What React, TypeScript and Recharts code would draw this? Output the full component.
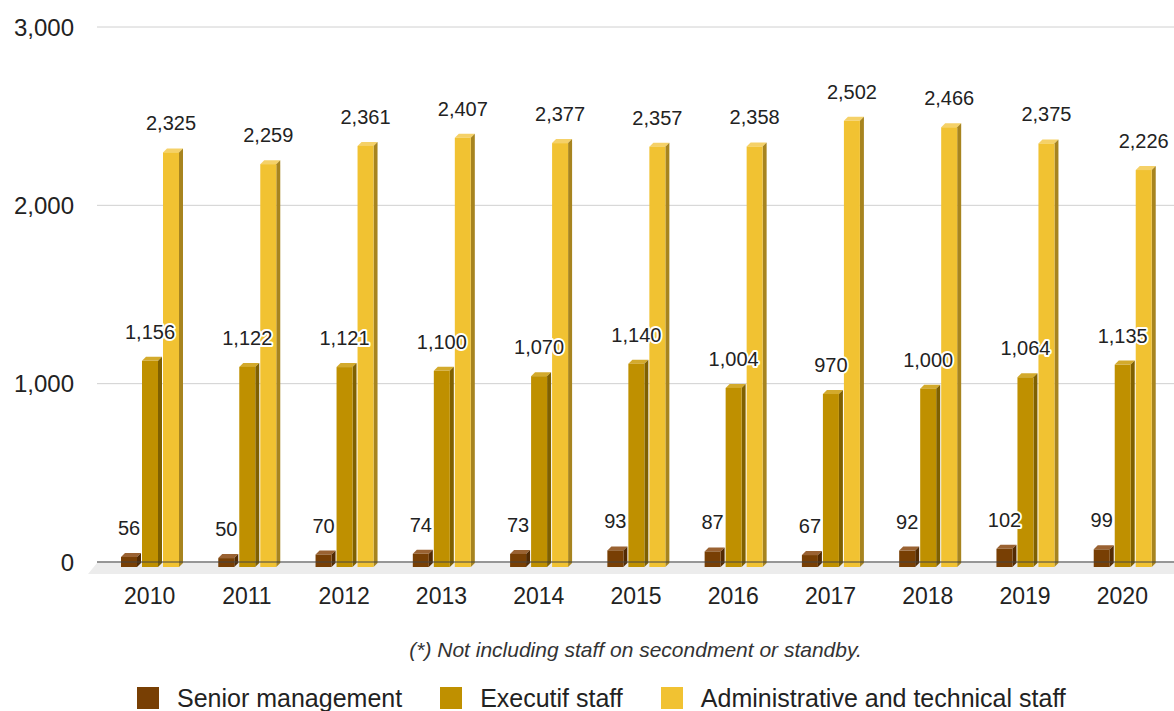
import { Bar, BarChart, CartesianGrid, LabelList, XAxis, YAxis } from "recharts";

const years = ["2010", "2011", "2012", "2013", "2014", "2015", "2016", "2017", "2018", "2019", "2020"];
const seniorManagement = [56, 50, 70, 74, 73, 93, 87, 67, 92, 102, 99];
const executifStaff = [1156, 1122, 1121, 1100, 1070, 1140, 1004, 970, 1000, 1064, 1135];
const adminTechStaff = [2325, 2259, 2361, 2407, 2377, 2357, 2358, 2502, 2466, 2375, 2226];
const yTicks = [0, 1000, 2000, 3000];

const series = [
  { key: "senior", name: "Senior management", front: "#783f04", top: "#9a6232", side: "#522a02" },
  { key: "executif", name: "Executif staff", front: "#bf9000", top: "#d3aa2c", side: "#7f6000" },
  { key: "admin", name: "Administrative and technical staff", front: "#f1c232", top: "#f5d168", side: "#a7841f" },
];

const data = years.map((year, i) => ({
  year,
  senior: seniorManagement[i],
  executif: executifStaff[i],
  admin: adminTechStaff[i],
}));

const FONT = "'Liberation Sans', Arial, sans-serif";
const DEPTH = 4;
const DROP = 5;

const fmt = (v: number) => String(v).replace(/\B(?=(\d{3})+(?!\d))/g, ",");

const makeBar3D = (front: string, top: string, side: string) => (props: any) => {
  const { x, y, width, height } = props;
  if (x == null || width == null) return null;
  const fy = y + DROP;
  const w = width;
  const h = height;
  return (
    <g>
      <polygon
        points={`${x},${fy} ${x + DEPTH},${fy - DEPTH} ${x + w + DEPTH},${fy - DEPTH} ${x + w},${fy}`}
        fill={top}
      />
      <polygon
        points={`${x + w},${fy} ${x + w + DEPTH},${fy - DEPTH} ${x + w + DEPTH},${fy + h - DEPTH} ${x + w},${fy + h}`}
        fill={side}
      />
      <rect x={x} y={fy} width={w} height={h} fill={front} />
    </g>
  );
};

const ValueLabel = (props: any) => {
  const { x, y, width, value } = props;
  if (value == null) return null;
  return (
    <text
      x={x + width / 2}
      y={y - 17}
      textAnchor="middle"
      fontSize={20}
      fontFamily={FONT}
      fill="#222"
      stroke="#fff"
      strokeWidth={4}
      strokeLinejoin="round"
      paintOrder="stroke"
    >
      {fmt(value)}
    </text>
  );
};

export default function App() {
  return (
    <div
      style={{
        position: "absolute",
        left: 0,
        top: 0,
        width: 1174,
        height: 711,
        background: "#fff",
        fontFamily: FONT,
        overflow: "hidden",
      }}
    >
      <svg width={1174} height={711} style={{ position: "absolute", left: 0, top: 0 }}>
        <polygon points="97,563 1174,563 1174,574 88,574" fill="#ececec" />
      </svg>
      <div style={{ position: "absolute", left: 0, top: 0 }}>
        <BarChart
          width={1174}
          height={711}
          data={data}
          margin={{ top: 27, right: 0, left: 0, bottom: 99 }}
          barSize={16}
          barGap={5}
        >
          <CartesianGrid vertical={false} stroke="#d0d0d0" xAxisId="main" />
          <XAxis
            xAxisId="main"
            dataKey="year"
            padding={{ left: 4, right: 3 }}
            interval={0}
            tickLine={false}
            axisLine={{ stroke: "#444" }}
            tickSize={0}
            tickMargin={26}
            height={50}
            tick={{ fontSize: 23, fill: "#222", fontFamily: FONT }}
          />
          <XAxis xAxisId="labels" dataKey="year" hide height={0} padding={{ left: 4, right: 3 }} />
          <YAxis
            domain={[0, 3000]}
            ticks={yTicks}
            width={97}
            axisLine={false}
            tickLine={false}
            tickSize={0}
            tickMargin={23}
            tickFormatter={fmt}
            tick={{ fontSize: 24, fill: "#222", fontFamily: FONT }}
          />
          {series.map((s) => (
            <Bar
              key={s.key}
              xAxisId="main"
              dataKey={s.key}
              name={s.name}
              fill={s.front}
              shape={makeBar3D(s.front, s.top, s.side)}
              isAnimationActive={false}
            />
          ))}
          {series.map((s) => (
            <Bar
              key={`lbl-${s.key}`}
              xAxisId="labels"
              dataKey={s.key}
              fill="none"
              shape={() => null}
              isAnimationActive={false}
            >
              <LabelList dataKey={s.key} content={ValueLabel} />
            </Bar>
          ))}
        </BarChart>
      </div>
      <div
        style={{
          position: "absolute",
          left: 97,
          right: 0,
          top: 638,
          textAlign: "center",
          fontStyle: "italic",
          fontSize: 21,
          lineHeight: "24px",
          color: "#333",
        }}
      >
        (*) Not including staff on secondment or standby.
      </div>
      <div
        style={{
          position: "absolute",
          left: 137,
          top: 684,
          display: "flex",
          alignItems: "center",
          fontSize: 25,
          lineHeight: "28px",
          color: "#222",
          whiteSpace: "nowrap",
        }}
      >
        {series.map((s, i) => (
          <div
            key={s.key}
            style={{ display: "flex", alignItems: "center", marginLeft: i === 0 ? 0 : 38 }}
          >
            <div style={{ width: 22, height: 22, background: s.front, marginRight: 18 }} />
            <span>{s.name}</span>
          </div>
        ))}
      </div>
    </div>
  );
}
